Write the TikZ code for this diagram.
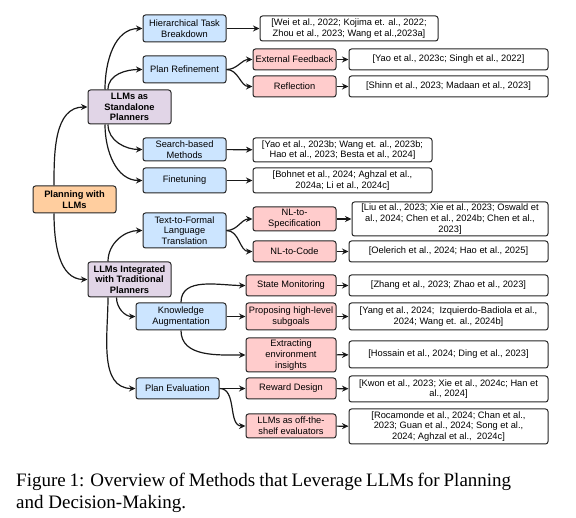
\documentclass[tikz,border=0pt]{standalone}
\usepackage{fontspec}
\setmainfont{Liberation Sans}
\newfontfamily\capfont{Liberation Serif}
\usetikzlibrary{arrows.meta}

\definecolor{rootfill}{HTML}{FFCE9F}
\definecolor{catfill}{HTML}{E1D5E7}
\definecolor{methfill}{HTML}{CCE5FF}
\definecolor{subfill}{HTML}{FFCCCC}

\begin{document}
\begin{tikzpicture}[x=1pt, y=-1pt,
		box/.style={draw=black!85, line width=1pt, rounded corners=2.5pt, align=center,
			inner sep=0.5pt, font=\fontsize{9.3}{10.8}\selectfont},
		rootbox/.style={box, fill=rootfill, minimum width=83pt, font=\fontsize{9.3}{10.8}\selectfont\bfseries},
		catbox/.style={box, fill=catfill, minimum width=83pt, font=\fontsize{9.3}{10.8}\selectfont\bfseries},
		methbox/.style={box, fill=methfill, minimum width=83pt},
		subbox/.style={box, fill=subfill, minimum width=83pt},
		refbox/.style={box, fill=white, minimum width=199pt},
		arr/.style={-{Stealth[length=6.5pt, width=6pt]}, line width=1.2pt, black!90}]
		\useasboundingbox (0,0) rectangle (576,518);

		\node[rootbox, minimum height=27pt] (root) at (74.5,199.5) {Planning with\\LLMs};
		\node[catbox, minimum height=34pt] (sa) at (129.5,107) {LLMs as\\Standalone\\Planners};
		\node[catbox, minimum height=35pt] (ti) at (129.5,279.5) {LLMs Integrated\\with Traditional\\Planners};

		\node[methbox, minimum height=27pt] (htb) at (184.5,28.5) {Hierarchical Task\\Breakdown};
		\node[methbox, minimum height=27pt] (pr) at (184.5,69.5) {Plan Refinement};
		\node[methbox, minimum height=23pt] (sbm) at (184.5,149.5) {Search-based\\Methods};
		\node[methbox, minimum height=25pt] (ft) at (184.5,180.5) {Finetuning};
		\node[methbox, minimum height=35pt] (tfl) at (184.5,230.5) {Text-to-Formal\\Language\\Translation};
		\node[methbox, minimum width=90pt, minimum height=27pt] (ka) at (181,316.5) {Knowledge\\Augmentation};
		\node[methbox, minimum height=21pt] (pe) at (177.5,388.5) {Plan Evaluation};

		\node[subbox, minimum height=21pt] (ef) at (294.5,59.5) {External Feedback};
		\node[subbox, minimum height=21pt] (refl) at (294.5,86.5) {Reflection};
		\node[subbox, minimum height=24pt] (nls) at (294.5,219) {NL-to-\\Specification};
		\node[subbox, minimum height=21pt] (nlc) at (294.5,251.5) {NL-to-Code};
		\node[subbox, minimum width=90pt, minimum height=21pt] (sm) at (291,285.5) {State Monitoring};
		\node[subbox, minimum width=90pt, minimum height=27pt] (phs) at (291,316.5) {Proposing high-level\\subgoals};
		\node[subbox, minimum width=90pt, minimum height=34pt] (eei) at (291,355) {Extracting\\environment\\insights};
		\node[subbox, minimum width=90pt, minimum height=21pt] (rd) at (291,388.5) {Reward Design};
		\node[subbox, minimum width=90pt, minimum height=24pt] (ose) at (291,426) {LLMs as off-the-\\shelf evaluators};

		\node[refbox, minimum width=178pt, minimum height=25pt] (r1) at (349,28.5) {[Wei et al., 2022; Kojima et. al., 2022;\\Zhou et al., 2023; Wang et al.,2023a]};
		\node[refbox, minimum height=21pt] (r2) at (448.5,59.5) {[Yao et al., 2023c; Singh et al., 2022]};
		\node[refbox, minimum height=21pt] (r3) at (448.5,86.5) {[Shinn et al., 2023; Madaan et al., 2023]};
		\node[refbox, minimum width=179pt, minimum height=24pt] (r4) at (342.5,150) {[Yao et al., 2023b; Wang et. al., 2023b;\\Hao et al., 2023; Besta et al., 2024]};
		\node[refbox, minimum width=179pt, minimum height=25pt] (r5) at (342.5,180.5) {[Bohnet et al., 2024; Aghzal et al.,\\2024a; Li et al., 2024c]};
		\node[refbox, minimum width=196pt, minimum height=34pt] (r6) at (450,219) {[Liu et al., 2023; Xie et al., 2023; Oswald et\\al., 2024; Chen et al., 2024b; Chen et al.,\\2023]};
		\node[refbox, minimum height=21pt] (r7) at (448.5,251.5) {[Oelerich et al., 2024; Hao et al., 2025]};
		\node[refbox, minimum height=21pt] (r8) at (448.5,285.5) {[Zhang et al., 2023; Zhao et al., 2023]};
		\node[refbox, minimum height=27pt] (r9) at (448.5,316.5) {[Yang et al., 2024;\ \ Izquierdo-Badiola et al.,\\2024; Wang et. al., 2024b]};
		\node[refbox, minimum height=27pt] (r10) at (448.5,354.5) {[Hossain et al., 2024; Ding et al., 2023]};
		\node[refbox, minimum height=26pt] (r11) at (448.5,389) {[Kwon et al., 2023; Xie et al., 2024c; Han et\\al., 2024]};
		\node[refbox, minimum height=35pt] (r12) at (448.5,426.5) {[Rocamonde et al., 2024; Chan et al.,\\2023; Guan et al., 2024; Song et al.,\\2024; Aghzal et al.,\ \ 2024c]};

		\draw[arr] ([xshift=-20.5pt]root.north) to[out=90, in=180] (sa.west);
		\draw[arr] ([xshift=-20.5pt]root.south) to[out=-90, in=180] (ti.west);

		\draw[arr] ([xshift=-24.5pt]sa.north) to[out=90, in=180] (htb.west);
		\draw[arr] ([xshift=-21.5pt]sa.north) to[out=90, in=180] (pr.west);
		\draw[arr] ([xshift=-21.5pt]sa.south) to[out=-90, in=180] (sbm.west);
		\draw[arr] ([xshift=-24.5pt]sa.south) to[out=-90, in=180] (ft.west);

		\draw[arr] ([xshift=-21.5pt]ti.north) to[out=90, in=180] (tfl.west);
		\draw[arr] ([xshift=-13pt]ti.south) to[out=-90, in=180] (ka.west);
		\draw[arr] ([xshift=-21.5pt]ti.south) to[out=-90, in=180] (pe.west);

		\draw[arr] (pr.east) to[out=0, in=180] (ef.west);
		\draw[arr] (pr.east) to[out=0, in=180] (refl.west);
		\draw[arr] (tfl.east) to[out=0, in=180] (nls.west);
		\draw[arr] (tfl.east) to[out=0, in=180] (nlc.west);
		\draw[arr] (ka.north) to[out=90, in=180] (sm.west);
		\draw[arr] (ka.east) -- (phs.west);
		\draw[arr] (ka.south) to[out=-90, in=180] (eei.west);
		\draw[arr] (pe.east) -- (rd.west);
		\draw[arr] (pe.east) to[out=0, in=180] (ose.west);

		\draw[arr] (htb) -- (r1);
		\draw[arr] (ef) -- (r2);
		\draw[arr] (refl) -- (r3);
		\draw[arr] (sbm) -- (r4);
		\draw[arr] (ft) -- (r5);
		\draw[arr] (nls) -- (r6);
		\draw[arr] (nlc) -- (r7);
		\draw[arr] (sm) -- (r8);
		\draw[arr] (phs) -- (r9);
		\draw[arr] (eei) -- (r10);
		\draw[arr] (rd) -- (r11);
		\draw[arr] (ose) -- (r12);

		\node[anchor=north west, align=left, inner sep=0pt, font=\capfont\fontsize{19}{21.7}\selectfont] (cap) at (16,472.8)
			{\spaceskip=4.75pt plus 6pt minus 2.5pt\relax\makebox[495pt][s]{Figure 1: Overview of Methods that Leverage LLMs for Planning}\\and Decision-Making.};
	\end{tikzpicture}
\end{document}
